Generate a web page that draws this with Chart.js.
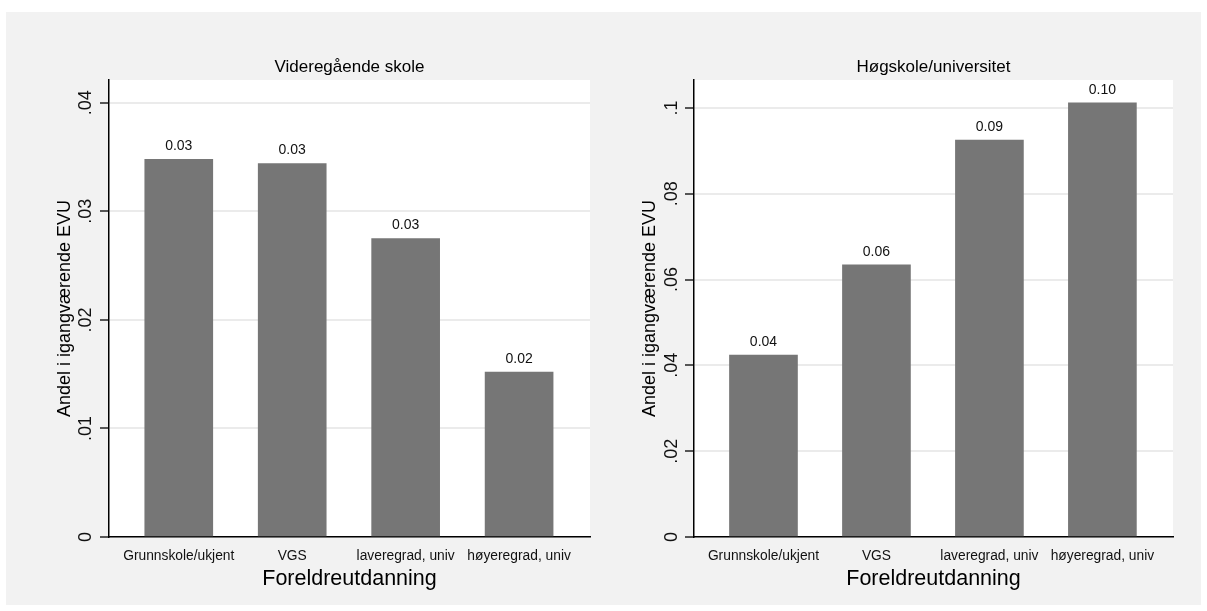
<!DOCTYPE html>
<html><head><meta charset="utf-8">
<script src="https://cdn.jsdelivr.net/npm/chart.js@4.4.1/dist/chart.umd.min.js"></script>
<style>
html,body{margin:0;padding:0;background:#fff;}
#bg{position:absolute;left:6px;top:12px;width:1195px;height:593px;background:#f2f2f2;}
canvas{position:absolute;top:12px;}
#c1{left:6px;} #c2{left:601px;}
</style></head><body>
<div id="bg"></div>
<canvas id="c1" width="595" height="593"></canvas>
<canvas id="c2" width="600" height="593"></canvas>
<script>
const categories = ['Grunnskole/ukjent', 'VGS', 'laveregrad, univ', 'høyeregrad, univ'];
const catPositions = [1, 2, 3, 4];
const vgsValues = [0.0348, 0.0344, 0.0275, 0.0152];
const uniValues = [0.0424, 0.0634, 0.0925, 0.1012];
const vgsTicks = [0, 0.01, 0.02, 0.03, 0.04];
const vgsTickLabels = ['0', '.01', '.02', '.03', '.04'];
const uniTicks = [0, 0.02, 0.04, 0.06, 0.08, 0.1];
const uniTickLabels = ['0', '.02', '.04', '.06', '.08', '.1'];
const panelTitles = ['Videregående skole', 'Høgskole/universitet'];
const yTitle = 'Andel i igangværende EVU';
const xTitle = 'Foreldreutdanning';

const FONT = '"Liberation Sans", Arial, Helvetica, sans-serif';

const areaBg = {
  id: 'areaBg',
  beforeDraw(chart) {
    const {ctx, chartArea: a} = chart;
    ctx.save();
    ctx.fillStyle = '#ffffff';
    ctx.fillRect(a.left, a.top, a.right - a.left, a.bottom - a.top);
    ctx.restore();
  }
};

const valueLabels = {
  id: 'valueLabels',
  afterDatasetsDraw(chart) {
    const {ctx} = chart;
    const meta = chart.getDatasetMeta(0);
    ctx.save();
    ctx.font = '14px ' + FONT;
    ctx.fillStyle = '#111';
    ctx.textAlign = 'center';
    ctx.textBaseline = 'middle';
    meta.data.forEach((bar, i) => {
      const v = chart.data.datasets[0].data[i].y;
      ctx.fillText(v.toFixed(2), bar.x, bar.y - 13);
    });
    ctx.restore();
  }
};

function makeChart(id, values, ticks, tickLabels, yMax, title, yWidth, padRight, yTitlePad, tickPad) {
  return new Chart(document.getElementById(id), {
    type: 'bar',
    data: {
      datasets: [{
        data: catPositions.map((x, i) => ({x: x, y: values[i]})),
        backgroundColor: '#767676',
        borderWidth: 0,
        barThickness: 68
      }]
    },
    plugins: [areaBg, valueLabels],
    options: {
      responsive: false,
      animation: false,
      devicePixelRatio: 1,
      layout: {padding: {left: 0, right: padRight, top: 0, bottom: 0}},
      plugins: {
        legend: {display: false},
        tooltip: {enabled: false},
        title: {
          display: true,
          text: title,
          fullSize: false,
          color: '#000',
          font: {family: FONT, size: 17, weight: 'normal'},
          padding: {top: 44.8, bottom: 2.8}
        }
      },
      scales: {
        x: {
          type: 'linear',
          offset: false,
          min: 0.385,
          max: 4.625,
          afterFit(scale) { scale.height = 68; },
          afterBuildTicks(scale) { scale.ticks = catPositions.map(v => ({value: v})); },
          grid: {display: true, drawOnChartArea: false, drawTicks: false, offset: false},
          border: {display: true, color: '#000', width: 1.5},
          ticks: {
            padding: 11,
            color: '#111',
            autoSkip: false,
            maxRotation: 0,
            font: {family: FONT, size: 13.8},
            callback: (v) => categories[catPositions.indexOf(v)] ?? ''
          },
          title: {
            display: true,
            text: xTitle,
            color: '#000',
            font: {family: FONT, size: 21.5},
            padding: {top: 0, bottom: 13}
          }
        },
        y: {
          type: 'linear',
          min: 0,
          max: yMax,
          afterFit(scale) { scale.width = yWidth; },
          afterBuildTicks(scale) { scale.ticks = ticks.map(v => ({value: v})); },
          grid: {color: '#ebebeb', lineWidth: 2, tickColor: '#000', tickLength: 9, tickWidth: 1.3},
          border: {display: true, color: '#000', width: 1.5},
          ticks: {
            padding: tickPad,
            color: '#111',
            minRotation: 90,
            maxRotation: 90,
            crossAlign: 'center',
            font: {family: FONT, size: 18},
            callback: (v) => tickLabels[ticks.indexOf(v)] ?? ''
          },
          title: {
            display: true,
            text: yTitle,
            color: '#000',
            font: {family: FONT, size: 18},
            padding: {top: yTitlePad, bottom: 0}
          }
        }
      }
    }
  });
}

makeChart('c1', vgsValues, vgsTicks, vgsTickLabels, 0.0421, panelTitles[0], 103, 11, 48.2, 1.7);
makeChart('c2', uniValues, uniTicks, uniTickLabels, 0.1065, panelTitles[1], 93, 28, 38.2, 0.5);
</script>
</body></html>
